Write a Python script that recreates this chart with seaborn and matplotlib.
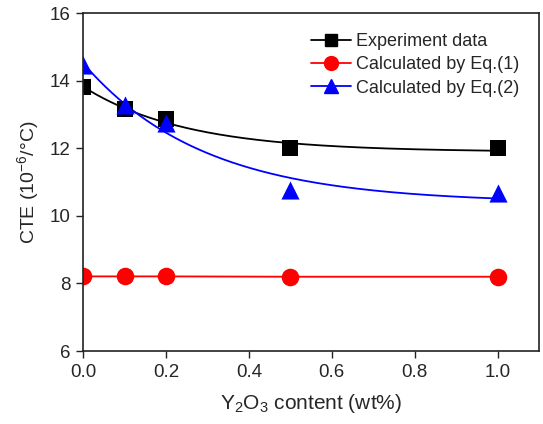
import numpy as np
import pandas as pd
import matplotlib
matplotlib.use("Agg")
import matplotlib.pyplot as plt
from matplotlib.lines import Line2D
import seaborn as sns

# Y2O3 content (wt%)
y2o3 = [0.0, 0.1, 0.2, 0.5, 1.0]
# CTE values (10^-6/°C)
cte_exp = [13.81, 13.16, 12.87, 12.01, 12.00]
cte_eq1 = [8.21, 8.21, 8.21, 8.20, 8.20]
cte_eq2 = [14.46, 13.28, 12.76, 10.76, 10.68]

sns.set_theme(style="ticks")
plt.rcParams["font.family"] = ["Liberation Sans", "DejaVu Sans"]
plt.rcParams["mathtext.fontset"] = "custom"
plt.rcParams["mathtext.rm"] = "Liberation Sans"
plt.rcParams["mathtext.it"] = "Liberation Sans:italic"


def exp_decay_fit(x, y):
    """Least-squares fit of y = a + b*exp(-x/t), scanning t."""
    x = np.asarray(x, float)
    y = np.asarray(y, float)
    best = None
    for t in np.linspace(0.02, 2.0, 2000):
        A = np.column_stack([np.ones_like(x), np.exp(-x / t)])
        coef, *_ = np.linalg.lstsq(A, y, rcond=None)
        err = np.sum((A @ coef - y) ** 2)
        if best is None or err < best[0]:
            best = (err, coef, t)
    _, (a, b), t = best
    return lambda xx: a + b * np.exp(-np.asarray(xx) / t)


xs = np.linspace(0.0, 1.0, 300)
fit_exp = exp_decay_fit(y2o3, cte_exp)
fit_eq2 = exp_decay_fit(y2o3, cte_eq2)
curves = pd.DataFrame({
    "x": np.concatenate([xs, xs]),
    "y": np.concatenate([fit_exp(xs), fit_eq2(xs)]),
    "series": ["exp"] * len(xs) + ["eq2"] * len(xs),
})

fig = plt.figure(figsize=(5.43, 4.24), dpi=100)
ax = fig.add_axes([0.153, 0.172, 0.840, 0.797])

sns.lineplot(data=curves, x="x", y="y", hue="series",
             palette={"exp": "black", "eq2": "#0000ff"},
             linewidth=1.3, legend=False, ax=ax)
sns.lineplot(x=y2o3, y=cte_eq1, color="#ff0000", linewidth=1.3, ax=ax)

sns.scatterplot(x=y2o3, y=cte_exp, marker="s", s=120, color="black",
                edgecolor="black", linewidth=0, ax=ax, zorder=5)
sns.scatterplot(x=y2o3, y=cte_eq1, marker="o", s=160, color="#ff0000",
                edgecolor="#ff0000", linewidth=0, ax=ax, zorder=5)
sns.scatterplot(x=y2o3, y=cte_eq2, marker="^", s=170, color="#0000ff",
                edgecolor="#0000ff", linewidth=0, ax=ax, zorder=5)

ax.set_xlim(0.0, 1.1)
ax.set_ylim(6, 16)
ax.set_xticks([0.0, 0.2, 0.4, 0.6, 0.8, 1.0])
ax.set_yticks([6, 8, 10, 12, 14, 16])
ax.xaxis.set_major_formatter(matplotlib.ticker.FormatStrFormatter("%.1f"))
ax.tick_params(axis="both", direction="out", length=5, width=1, pad=4,
               labelsize=13.5, color="#222222", top=False, right=False)
ax.set_frame_on(True)
for sp in ax.spines.values():
    sp.set_visible(True)
    sp.set_linewidth(1.2)
    sp.set_color("#222222")
    sp.set_zorder(10)

ax.set_xlabel("Y$_2$O$_3$ content (wt%)", fontsize=15, labelpad=8)
ax.set_ylabel("CTE (10$^{-6}$/°C)", fontsize=14, labelpad=6)

handles = [
    Line2D([], [], color="black", marker="s", markersize=9, lw=1.3),
    Line2D([], [], color="#ff0000", marker="o", markersize=10, lw=1.3),
    Line2D([], [], color="#0000ff", marker="^", markersize=10, lw=1.3),
]
labels = ["Experiment data", "Calculated by Eq.(1)", "Calculated by Eq.(2)"]
ax.legend(handles, labels, loc="upper right", frameon=False, fontsize=13,
          handlelength=2.2, handletextpad=0.3, labelspacing=0.35,
          borderaxespad=0.7)

fig.savefig("out.png", dpi=100)
